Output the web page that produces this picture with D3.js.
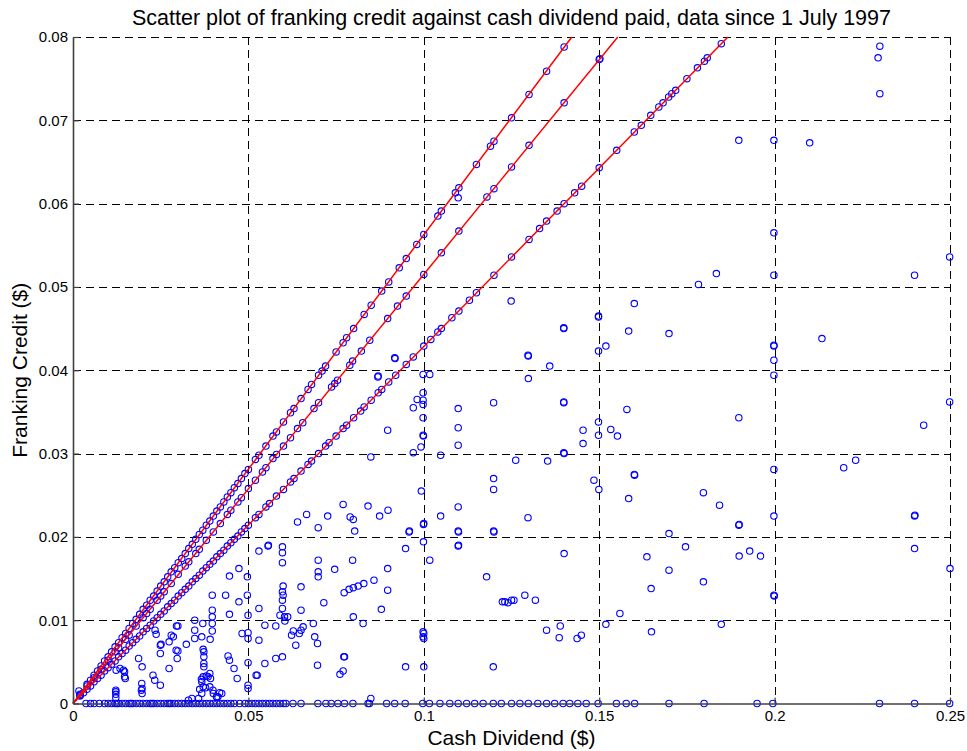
<!DOCTYPE html>
<html>
<head>
<meta charset="utf-8">
<script src="https://cdn.jsdelivr.net/npm/d3@7"></script>
<style>
  html, body { margin: 0; padding: 0; background: #fff; }
  svg { display: block; font-family: "Liberation Sans", Arial, Helvetica, sans-serif; }
</style>
</head>
<body>
<svg id="chart" width="967" height="751"></svg>
<script>
// ---------------- DATA ----------------
const titleText = "Scatter plot of franking credit against cash dividend paid, data since 1 July 1997";
const xLabelText = "Cash Dividend ($)";
const yLabelText = "Franking Credit ($)";

const xTicks = [0, 0.05, 0.1, 0.15, 0.2, 0.25];
const xTickLabels = ["0", "0.05", "0.1", "0.15", "0.2", "0.25"];
const yTicks = [0, 0.01, 0.02, 0.03, 0.04, 0.05, 0.06, 0.07, 0.08];
const yTickLabels = ["0", "0.01", "0.02", "0.03", "0.04", "0.05", "0.06", "0.07", "0.08"];

// Tax-rate reference lines (fully franked): [cash dividend, franking credit] end points
const line36 = [[0, 0], [0.1422, 0.08]];
const line34 = [[0, 0], [0.1553, 0.08]];
const line30 = [[0, 0], [0.1867, 0.08]];

// Fully franked dividends at 36% company tax
const franked36 = [
[0.002,0.0011],[0.004,0.0023],[0.005,0.0028],[0.006,0.0034],[0.007,0.0039],[0.008,0.0045],[0.009,0.0051],
[0.010,0.0056],[0.011,0.0062],[0.012,0.0068],[0.013,0.0073],[0.014,0.0079],[0.015,0.0084],[0.016,0.0090],
[0.017,0.0096],[0.018,0.0101],[0.019,0.0107],[0.020,0.0113],[0.021,0.0118],[0.022,0.0124],[0.023,0.0129],
[0.024,0.0135],[0.025,0.0141],[0.026,0.0146],[0.027,0.0152],[0.028,0.0158],[0.029,0.0163],[0.030,0.0169],
[0.031,0.0174],[0.032,0.0180],[0.033,0.0186],[0.034,0.0191],[0.035,0.0197],[0.036,0.0203],[0.037,0.0208],
[0.038,0.0214],[0.039,0.0219],[0.040,0.0225],[0.041,0.0231],[0.042,0.0236],[0.043,0.0242],[0.044,0.0248],
[0.045,0.0253],[0.046,0.0259],[0.047,0.0264],[0.048,0.0270],[0.049,0.0276],[0.050,0.0281],[0.052,0.0293],
[0.053,0.0298],[0.055,0.0309],[0.057,0.0321],[0.058,0.0326],[0.060,0.0338],[0.062,0.0349],[0.063,0.0354],
[0.065,0.0366],[0.067,0.0377],[0.068,0.0383],[0.070,0.0394],[0.071,0.0399],[0.072,0.0405],[0.075,0.0422],
[0.077,0.0433],[0.078,0.0439],[0.080,0.0450],[0.083,0.0467],[0.085,0.0478],[0.088,0.0495],[0.090,0.0506],
[0.093,0.0523],[0.095,0.0534],[0.098,0.0551],[0.100,0.0563],[0.104,0.0585],[0.105,0.0591],[0.109,0.0613],
[0.110,0.0619],[0.115,0.0647],[0.119,0.0669],[0.120,0.0675],[0.125,0.0703],[0.130,0.0731],[0.135,0.0759],
[0.140,0.0788]
];

// Fully franked dividends at 34% company tax
const franked34 = [
[0.002,0.0010],[0.004,0.0021],[0.006,0.0031],[0.008,0.0041],[0.010,0.0052],[0.012,0.0062],[0.013,0.0067],
[0.015,0.0077],[0.016,0.0082],[0.018,0.0093],[0.020,0.0103],[0.021,0.0108],[0.022,0.0113],[0.024,0.0124],
[0.025,0.0129],[0.026,0.0134],[0.028,0.0144],[0.030,0.0155],[0.032,0.0165],[0.033,0.0170],[0.035,0.0180],
[0.036,0.0185],[0.038,0.0196],[0.040,0.0206],[0.042,0.0216],[0.044,0.0227],[0.045,0.0232],[0.047,0.0242],
[0.048,0.0247],[0.050,0.0258],[0.052,0.0268],[0.054,0.0278],[0.055,0.0283],[0.057,0.0294],[0.058,0.0299],
[0.060,0.0309],[0.062,0.0319],[0.064,0.0330],[0.0655,0.0337],[0.0687,0.0354],[0.070,0.0361],[0.0737,0.0380],
[0.0746,0.0384],[0.0754,0.0388],[0.0789,0.0406],[0.0797,0.0411],[0.0822,0.0423],[0.0846,0.0436],
[0.0897,0.0462],[0.0925,0.0477],[0.095,0.0489],[0.100,0.0515],[0.105,0.0541],[0.110,0.0567],[0.118,0.0608],
[0.120,0.0618],[0.125,0.0644],[0.130,0.0670],[0.140,0.0721],[0.150,0.0773],[0.1502,0.0774]
];

// Fully franked dividends at 30% company tax
const franked30 = [
[0.002,0.0009],[0.003,0.0013],[0.004,0.0017],[0.005,0.0021],[0.006,0.0026],[0.007,0.0030],[0.008,0.0034],
[0.009,0.0039],[0.010,0.0043],[0.011,0.0047],[0.012,0.0051],[0.013,0.0056],[0.014,0.0060],[0.015,0.0064],
[0.016,0.0069],[0.017,0.0073],[0.018,0.0077],[0.019,0.0081],[0.020,0.0086],[0.021,0.0090],[0.022,0.0094],
[0.023,0.0099],[0.024,0.0103],[0.025,0.0107],[0.026,0.0111],[0.027,0.0116],[0.028,0.0120],[0.029,0.0124],
[0.030,0.0129],[0.031,0.0133],[0.032,0.0137],[0.033,0.0141],[0.034,0.0146],[0.035,0.0150],[0.036,0.0154],
[0.037,0.0159],[0.038,0.0163],[0.039,0.0167],[0.040,0.0171],[0.041,0.0176],[0.042,0.0180],[0.043,0.0184],
[0.044,0.0189],[0.045,0.0193],[0.046,0.0197],[0.047,0.0201],[0.048,0.0206],[0.049,0.0210],[0.050,0.0214],
[0.052,0.0223],[0.053,0.0227],[0.055,0.0236],[0.056,0.0240],[0.058,0.0249],[0.060,0.0257],[0.062,0.0266],
[0.063,0.0270],[0.065,0.0279],[0.067,0.0287],[0.068,0.0291],[0.070,0.0300],[0.072,0.0309],[0.073,0.0313],
[0.075,0.0321],[0.077,0.0330],[0.078,0.0334],[0.080,0.0343],[0.082,0.0351],[0.083,0.0356],[0.085,0.0364],
[0.087,0.0373],[0.088,0.0377],[0.090,0.0386],[0.092,0.0394],[0.095,0.0407],[0.097,0.0416],[0.100,0.0429],
[0.102,0.0437],[0.104,0.0446],[0.105,0.0450],[0.108,0.0463],[0.110,0.0471],[0.113,0.0484],[0.115,0.0493],
[0.120,0.0514],[0.125,0.0536],[0.130,0.0557],[0.133,0.0570],[0.135,0.0579],[0.138,0.0591],[0.140,0.0600],
[0.143,0.0613],[0.145,0.0621],[0.150,0.0643],[0.155,0.0664],[0.160,0.0686],[0.162,0.0694],[0.1647,0.0706],
[0.167,0.0716],[0.1682,0.0721],[0.1698,0.0728],[0.1707,0.0732],[0.1718,0.0736],[0.175,0.0750],[0.178,0.0763],
[0.180,0.0771],[0.1808,0.0775],[0.1848,0.0792]
];

// Partially franked dividends
const partial = [
[0.2300,0.0789],[0.2295,0.0775],[0.2300,0.0732],[0.1898,0.0676],[0.1998,0.0676],[0.2100,0.0673],[0.1998,0.0565],
[0.2499,0.0536],[0.2399,0.0514],[0.1998,0.0514],[0.1834,0.0516],[0.1783,0.0503],[0.1600,0.0480],[0.1498,0.0464],
[0.1498,0.0465],[0.1399,0.0450],[0.1399,0.0451],[0.1584,0.0447],[0.1699,0.0444],[0.1519,0.0429],[0.1498,0.0423],
[0.2135,0.0438],[0.1998,0.0429],[0.1998,0.0430],[0.1998,0.0412],[0.1998,0.0394],[0.1359,0.0405],[0.1399,0.0361],
[0.1399,0.0362],[0.1579,0.0353],[0.1898,0.0343],[0.1498,0.0338],[0.1454,0.0328],[0.1533,0.0329],[0.1552,0.0321],
[0.1498,0.0322],[0.1454,0.0312],[0.1399,0.0301],[0.1400,0.0300],[0.2499,0.0362],[0.2425,0.0334],[0.2231,0.0292],
[0.1998,0.0281],[0.2197,0.0283],[0.1797,0.0253],[0.1843,0.0238],[0.1898,0.0214],[0.1899,0.0215],[0.1998,0.0225],
[0.2399,0.0225],[0.2400,0.0226],[0.1699,0.0204],[0.1746,0.0188],[0.1899,0.0177],[0.1929,0.0183],[0.1960,0.0177],
[0.2399,0.0186],[0.2500,0.0162],[0.1699,0.0160],[0.1797,0.0146],[0.1998,0.0130],[0.1999,0.0129],[0.1848,0.0095],
[0.1179,0.0152],[0.1400,0.0180],[0.1636,0.0176],[0.1648,0.0138],[0.1224,0.0122],[0.1231,0.0122],[0.1240,0.0121],
[0.1250,0.0124],[0.1257,0.0124],[0.1288,0.0130],[0.1318,0.0124],[0.1559,0.0108],[0.1519,0.0095],[0.1350,0.0088],
[0.1389,0.0093],[0.1386,0.0079],[0.1437,0.0078],[0.1449,0.0082],[0.1649,0.0086],[0.1198,0.0044],
[0.1098,0.0310],[0.1048,0.0298],[0.0992,0.0308],[0.1262,0.0292],[0.1353,0.0291],[0.1199,0.0270],[0.1199,0.0257],
[0.1485,0.0268],[0.1499,0.0257],[0.1584,0.0246],[0.1600,0.0275],[0.1601,0.0274],[0.0993,0.0255],[0.1098,0.0236],
[0.1048,0.0225],[0.1297,0.0223],[0.0999,0.0215],[0.1000,0.0216],[0.1098,0.0207],[0.1099,0.0206],[0.1199,0.0207],
[0.1200,0.0206],[0.0999,0.0194],[0.1098,0.0189],[0.1099,0.0190],[0.1017,0.0172],[0.0998,0.0086],[0.0998,0.0080],
[0.1249,0.0483],[0.1297,0.0418],[0.1298,0.0417],[0.1298,0.0390],[0.0917,0.0415],[0.0918,0.0414],[0.0869,0.0392],
[0.0870,0.0393],[0.0998,0.0395],[0.1017,0.0395],[0.0998,0.0373],[0.0981,0.0365],[0.0998,0.0364],[0.0998,0.0359],
[0.0970,0.0355],[0.1098,0.0354],[0.1199,0.0361],[0.0998,0.0343],[0.1098,0.0331],[0.0897,0.0328],[0.0998,0.0322],
[0.0999,0.0321],[0.0970,0.0301],[0.0849,0.0296],[0.1098,0.0607],
[0.0770,0.0239],[0.0841,0.0237],[0.0898,0.0232],[0.0874,0.0225],[0.0666,0.0227],[0.0640,0.0218],[0.0726,0.0225],
[0.0790,0.0224],[0.0799,0.0221],[0.0699,0.0211],[0.0803,0.0207],[0.0958,0.0206],[0.0959,0.0207],[0.0948,0.0186],
[0.0556,0.0189],[0.0557,0.0190],[0.0530,0.0183],[0.0597,0.0188],[0.0597,0.0181],[0.0597,0.0169],[0.0699,0.0172],
[0.0699,0.0158],[0.0699,0.0152],[0.0746,0.0161],[0.0797,0.0172],[0.0897,0.0162],[0.0599,0.0141],[0.0599,0.0130],
[0.0650,0.0140],[0.0773,0.0133],[0.0787,0.0137],[0.0799,0.0139],[0.0813,0.0141],[0.0829,0.0144],[0.0858,0.0148],
[0.0897,0.0136],[0.0715,0.0121],[0.0650,0.0112],[0.0530,0.0114],[0.0499,0.0106],[0.0799,0.0104],[0.0879,0.0113],
[0.0827,0.0096],[0.0590,0.0106],[0.0603,0.0104],[0.0612,0.0104],[0.0604,0.0099],[0.0547,0.0094],[0.0578,0.0093],
[0.0499,0.0085],[0.0499,0.0078],[0.0530,0.0076],[0.0623,0.0082],[0.0635,0.0070],[0.0628,0.0087],[0.0650,0.0088],
[0.0656,0.0092],[0.0685,0.0096],[0.0645,0.0084],[0.0689,0.0080],[0.0697,0.0072],[0.0578,0.0054],[0.0597,0.0056],
[0.0547,0.0048],[0.0525,0.0034],[0.0697,0.0046],[0.0772,0.0056],[0.0770,0.0039],[0.0761,0.0035],[0.0948,0.0044],
[0.1000,0.0044],[0.1000,0.0084],[0.1000,0.0078],[0.0499,0.0022],[0.0499,0.0018],[0.0849,0.0006],
[0.0597,0.0134],[0.0597,0.0124],[0.0597,0.0114],
[0.0446,0.0153],[0.0473,0.0162],[0.0497,0.0152],[0.0397,0.0130],[0.0435,0.0130],[0.0473,0.0122],[0.0497,0.0130],
[0.0446,0.0107],[0.0397,0.0112],[0.0397,0.0104],[0.0397,0.0096],[0.0397,0.0087],[0.0347,0.0100],[0.0370,0.0096],
[0.0347,0.0088],[0.0347,0.0078],[0.0391,0.0077],[0.0299,0.0093],[0.0280,0.0082],[0.0237,0.0083],[0.0274,0.0074],
[0.0323,0.0071],[0.0294,0.0064],[0.0249,0.0070],[0.0249,0.0060],[0.0297,0.0054],[0.0299,0.0063],[0.0187,0.0054],
[0.0197,0.0044],[0.0123,0.0040],[0.0144,0.0040],[0.0149,0.0030],[0.0274,0.0042],[0.0233,0.0028],[0.0228,0.0034],
[0.0249,0.0022],[0.0366,0.0029],[0.0373,0.0044],[0.0392,0.0030],[0.0378,0.0019],[0.0399,0.0016],[0.0385,0.0032],
[0.0361,0.0017],[0.0418,0.0013],[0.0339,0.0006],[0.0358,0.0006],[0.0413,0.0008],[0.0197,0.0018],[0.0197,0.0012],
[0.0122,0.0016],[0.0122,0.0011],[0.0122,0.0007],[0.0017,0.0015],
[0.0442,0.0057],[0.0446,0.0052],[0.0459,0.0042],[0.0468,0.0030],[0.0499,0.0049],[0.0522,0.0034],[0.0774,0.0056],
[0.0482,0.0084],[0.0371,0.0032],[0.0367,0.0026],[0.0380,0.0033],[0.0390,0.0036],[0.0371,0.0020],[0.0390,0.0020],
[0.0367,0.0012],[0.0400,0.0012],[0.0409,0.0008],[0.0424,0.0012],[0.0329,0.0004],[0.0373,0.0062],[0.0373,0.0056],
[0.0373,0.0048],[0.0371,0.0065],[0.0367,0.0080],[0.0147,0.0038],[0.0147,0.0032],[0.0122,0.0014],[0.0195,0.0016],
[0.0286,0.0080],[0.0295,0.0093],[0.0234,0.0088],[0.0251,0.0071],[0.0134,0.0042],[0.0196,0.0024]
];

// Unfranked dividends (franking credit = 0): cash dividend values
const unfrankedDiv = [
0.0037,0.005,0.006,0.0075,0.009,0.010,0.011,0.012,0.0125,0.013,0.014,0.015,0.016,0.0165,0.017,0.018,0.019,
0.020,0.021,0.022,0.0225,0.023,0.024,0.025,0.026,0.027,0.0275,0.028,0.029,0.030,0.031,0.032,0.033,0.034,
0.035,0.036,0.037,0.038,0.039,0.040,0.041,0.042,0.043,0.044,0.045,0.046,0.0475,0.049,0.050,0.051,0.052,
0.053,0.054,0.055,0.056,0.057,0.058,0.059,0.060,0.0607,0.0627,0.065,0.0698,0.0721,0.0736,0.0755,0.0774,
0.0798,0.0841,0.0845,0.0894,0.0917,0.0947,0.0997,0.1016,0.1046,0.1074,0.1098,0.1122,0.1145,0.1169,0.1198,
0.1221,0.125,0.1274,0.1298,0.1325,0.135,0.1373,0.1397,0.1416,0.1439,0.1463,0.1497,0.1549,0.1577,0.1601,
0.1699,0.1799,0.195,0.1995,0.2299,0.2399,0.2499
];
const unfrankedCredit = unfrankedDiv.map(() => 0);

// ---------------- CHART ----------------
const svg = d3.select("#chart");
const W = 967, H = 751;
const plot = { left: 73, right: 950, top: 37, bottom: 703.5 };

const x = d3.scaleLinear().domain([0, 0.25]).range([plot.left, plot.right]);
const y = d3.scaleLinear().domain([0, 0.08]).range([plot.bottom, plot.top]);

svg.append("rect").attr("width", W).attr("height", H).attr("fill", "#fff");

// Grid
const grid = svg.append("g").attr("class", "grid")
  .attr("stroke", "#000").attr("stroke-width", 1).attr("stroke-dasharray", "8,5").attr("fill", "none");
grid.selectAll("line.h").data(yTicks.filter(d => d > 0)).join("line")
  .attr("class", "h")
  .attr("x1", plot.left).attr("x2", plot.right)
  .attr("y1", d => Math.round(y(d)) + 0.5).attr("y2", d => Math.round(y(d)) + 0.5);
grid.selectAll("line.v").data(xTicks.filter(d => d > 0)).join("line")
  .attr("class", "v")
  .attr("y1", plot.top).attr("y2", plot.bottom)
  .attr("x1", d => Math.round(x(d)) + 0.5).attr("x2", d => Math.round(x(d)) + 0.5);

// Points
const allPts = []
  .concat(franked36, franked34, franked30, partial)
  .concat(unfrankedDiv.map((d, i) => [d, unfrankedCredit[i]]));

svg.append("g").attr("class", "points")
  .selectAll("circle").data(allPts).join("circle")
  .attr("cx", d => x(d[0]))
  .attr("cy", d => y(d[1]))
  .attr("r", 3.2)
  .attr("fill", "none")
  .attr("stroke", "#0000ff")
  .attr("stroke-width", 1.1);

// Red tax-rate lines
const lineGen = d3.line().x(d => x(d[0])).y(d => y(d[1]));
svg.append("g").attr("class", "lines")
  .selectAll("path").data([line36, line34, line30]).join("path")
  .attr("d", lineGen)
  .attr("fill", "none")
  .attr("stroke", "#ff0000")
  .attr("stroke-width", 1.5);

// Axes
const xAxis = d3.axisBottom(x).tickValues(xTicks)
  .tickFormat((d, i) => xTickLabels[i]).tickSizeInner(-6).tickSizeOuter(0).tickPadding(7);
const yAxis = d3.axisLeft(y).tickValues(yTicks)
  .tickFormat((d, i) => yTickLabels[i]).tickSizeInner(-6).tickSizeOuter(0).tickPadding(5);

const gx = svg.append("g").attr("transform", `translate(0,${plot.bottom})`).call(xAxis);
const gy = svg.append("g").attr("transform", `translate(${plot.left},0)`).call(yAxis);
[gx, gy].forEach(g => {
  g.select(".domain").attr("stroke", "#404040").attr("stroke-width", 1.6);
  g.selectAll(".tick line").attr("stroke", "#404040").attr("stroke-width", 1.2);
  g.selectAll(".tick text").attr("fill", "#000").attr("font-size", "15px")
    .attr("font-family", '"Liberation Sans", Arial, Helvetica, sans-serif');
});

// Title and labels
svg.append("text").attr("x", (plot.left + plot.right) / 2).attr("y", 25)
  .attr("text-anchor", "middle").attr("font-size", "21.5px").attr("fill", "#000")
  .text(titleText);
svg.append("text").attr("x", (plot.left + plot.right) / 2).attr("y", 745)
  .attr("text-anchor", "middle").attr("font-size", "21px").attr("fill", "#000")
  .text(xLabelText);
svg.append("text")
  .attr("transform", `translate(27,${(plot.top + plot.bottom) / 2}) rotate(-90)`)
  .attr("text-anchor", "middle").attr("font-size", "21px").attr("fill", "#000")
  .text(yLabelText);
</script>
</body>
</html>
